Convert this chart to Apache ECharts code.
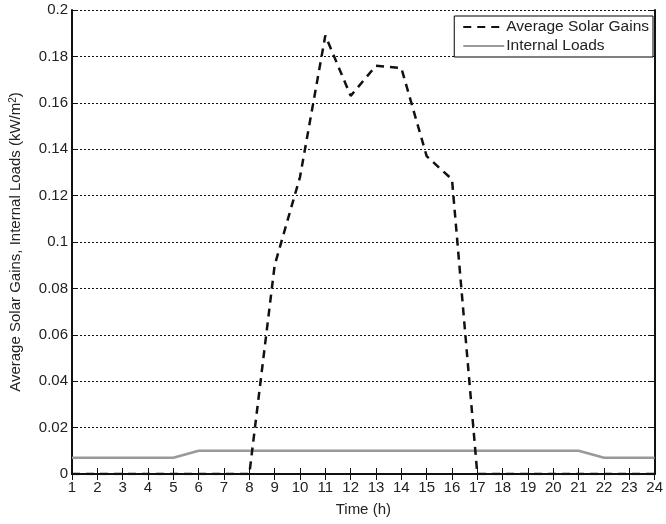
<!DOCTYPE html>
<html><head><meta charset="utf-8">
<script src="https://cdn.jsdelivr.net/npm/echarts@6/dist/echarts.min.js"></script>
<style>html,body{margin:0;padding:0;background:#fff}#c{width:666px;height:524px}</style>
</head><body><div id="c"></div>
<script>
const hours = [1,2,3,4,5,6,7,8,9,10,11,12,13,14,15,16,17,18,19,20,21,22,23,24];
const solarGains = [0,0,0,0,0,0,0,0,0.090,0.128,0.189,0.163,0.176,0.175,0.137,0.127,0,0,0,0,0,0,0,0];
const internalLoads = [0.007,0.007,0.007,0.007,0.007,0.01,0.01,0.01,0.01,0.01,0.01,0.01,0.01,0.01,0.01,0.01,0.01,0.01,0.01,0.01,0.01,0.007,0.007,0.007];
const yTicks = [0,0.02,0.04,0.06,0.08,0.1,0.12,0.14,0.16,0.18,0.2];

const font = 'Liberation Sans, Arial, sans-serif';
const chart = echarts.init(document.getElementById('c'), null, {renderer:'canvas'});
chart.setOption({
  animation:false,
  backgroundColor:'#fff',
  grid:{left:71,right:8,top:10,bottom:50,containLabel:false},
  legend:{
    right:13, top:16, orient:'vertical',
    backgroundColor:'#fff', borderColor:'#000', borderWidth:1,
    padding:[3,4,3,8], itemGap:3, itemWidth:41, itemHeight:17,
    itemStyle:{color:'rgba(0,0,0,0)',borderColor:'rgba(0,0,0,0)',borderWidth:0,opacity:0},
    textStyle:{fontFamily:font,fontSize:15.5,color:'#222',padding:[0,0,0,-3]},
    data:[{name:'Average Solar Gains'},{name:'Internal Loads'}]
  },
  xAxis:[{
    type:'value', min:1, max:24, interval:1, position:'bottom',
    name:'Time (h)', nameLocation:'middle', nameGap:28,
    nameTextStyle:{fontFamily:font,fontSize:15,color:'#222'},
    axisLine:{lineStyle:{color:'#111',width:2}},
    axisTick:{inside:true,length:6,lineStyle:{color:'#111'}},
    axisLabel:{fontFamily:font,fontSize:15,color:'#222',margin:6},
    splitLine:{show:false}
  },{
    type:'value', min:1, max:24, interval:1, position:'top',
    axisLine:{lineStyle:{color:'#111',width:2}},
    axisTick:{inside:true,length:6,lineStyle:{color:'#111'}},
    axisLabel:{show:false}, splitLine:{show:false}
  }],
  yAxis:[{
    type:'value', min:0, max:0.2, interval:0.02, position:'left',
    name:'{a|Average Solar Gains, Internal Loads (kW/m}{s|2}{a|)}', nameLocation:'middle', nameGap:48, nameRotate:90,
    nameTextStyle:{fontFamily:font,fontSize:15,color:'#222',
      rich:{a:{fontFamily:font,fontSize:15,color:'#222'},s:{fontFamily:font,fontSize:10,color:'#222',verticalAlign:'top',padding:[0,0,6,0]}}},
    axisLine:{show:true,lineStyle:{color:'#111',width:2}},
    axisTick:{show:true,inside:true,length:6,lineStyle:{color:'#111'}},
    axisLabel:{fontFamily:font,fontSize:15,color:'#222',margin:4,
      formatter:v=>{const t=yTicks.find(x=>Math.abs(x-v)<1e-9);return t===undefined?'':String(+t.toFixed(2));}},
    splitLine:{show:true,lineStyle:{color:'#111',type:[2,2],width:1}}
  },{
    type:'value', min:0, max:0.2, interval:0.02, position:'right',
    axisLine:{show:true,lineStyle:{color:'#111',width:2}},
    axisTick:{show:true,inside:true,length:6,lineStyle:{color:'#111'}},
    axisLabel:{show:false}, splitLine:{show:false}
  }],
  series:[{
    name:'Internal Loads', type:'line', xAxisIndex:0, yAxisIndex:0,
    data:hours.map((h,i)=>[h,internalLoads[i]]),
    showSymbol:false, symbol:'none',
    lineStyle:{color:'#999',width:2.5,type:'solid'}, itemStyle:{color:'#999'}, z:3
  },{
    name:'Average Solar Gains', type:'line', xAxisIndex:0, yAxisIndex:0,
    data:hours.map((h,i)=>[h,solarGains[i]]),
    showSymbol:false, symbol:'none',
    lineStyle:{color:'#111',width:2.5,type:[8,6]}, itemStyle:{color:'#111'}, z:4
  }]
});
</script></body></html>
